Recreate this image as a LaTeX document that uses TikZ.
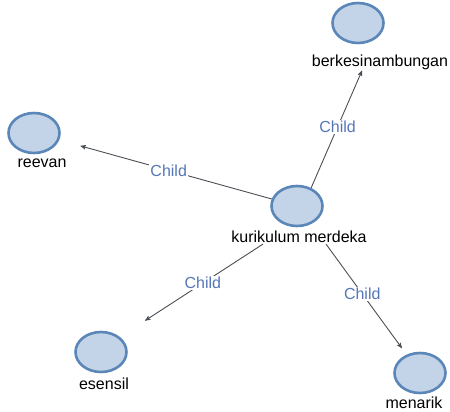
\documentclass[tikz,border=0pt]{standalone}
\usepackage{fontspec}
\setmainfont{Liberation Sans}
\usetikzlibrary{arrows,shapes,positioning,calc}

\definecolor{conceptfill}{HTML}{C4D4E8}
\definecolor{conceptline}{HTML}{5A86B8}
\definecolor{childblue}{HTML}{5577B8}
\definecolor{edgegray}{HTML}{4A4F55}

\tikzset{
  concept/.style={ellipse,draw=conceptline,fill=conceptfill,line width=2.6pt,
    minimum width=51pt,minimum height=40pt,inner sep=0pt},
  conceptname/.style={font=\fontsize{16}{16}\selectfont,inner sep=1pt},
  childedge/.style={->,draw=edgegray,line width=0.9pt},
  childtag/.style={font=\fontsize{16}{16}\selectfont,text=childblue,fill=white,inner sep=1pt}
}

\begin{document}
\begin{tikzpicture}[x=1pt,y=-1pt,>=stealth']
\useasboundingbox (0,0) rectangle (450,412);
\node[concept] (km) at (297,206) {};
\node[conceptname] (km-t) at (299,237) {kurikulum merdeka};
\node[concept] (berk) at (358,23) {};
\node[conceptname] (berk-t) at (380,62) {berkesinambungan};
\node[concept] (reevan) at (34,133) {};
\node[conceptname] (reevan-t) at (42,163) {reevan};
\node[concept] (esensil) at (101,352) {};
\node[conceptname] (esensil-t) at (104,384) {esensil};
\node[concept] (menarik) at (420,373) {};
\node[conceptname] (menarik-t) at (414,403) {menarik};

\draw[childedge] (km.52) -- node[childtag,pos=0.52] {Child} ([xshift=-18pt]berk-t.south);
\draw[childedge,shorten >=22pt] (km) -- node[childtag,pos=0.485] {Child} (reevan);
\draw[childedge,shorten >=30pt] ([xshift=-36pt]km-t.south) -- node[childtag,pos=0.42] {Child} (esensil.north east);
\draw[childedge,shorten >=8pt] ([xshift=27pt]km-t.south) -- node[childtag,pos=0.45] {Child} (menarik);
\end{tikzpicture}
\end{document}
